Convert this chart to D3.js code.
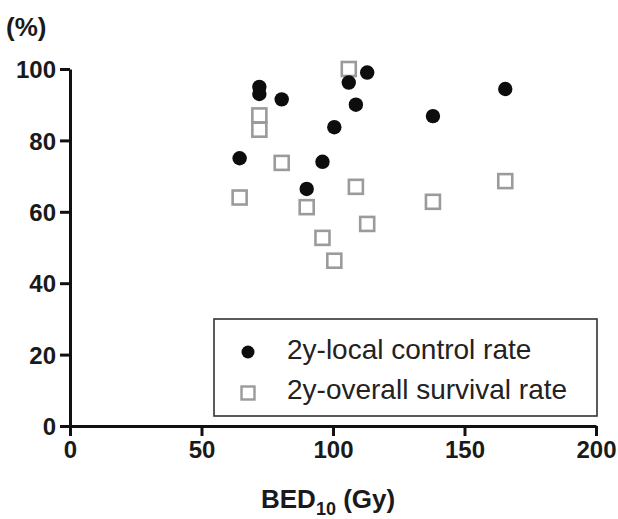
<!DOCTYPE html>
<html>
<head>
<meta charset="utf-8">
<script src="https://cdn.jsdelivr.net/npm/d3@7"></script>
<style>
  body { margin: 0; background: #fff; }
  svg { font-family: "Liberation Sans", Arial, sans-serif; }
</style>
</head>
<body>
<script>
// BED10 (Gy) of each study, with its 2y local control and 2y overall survival
const bed = [64.5, 72, 72, 80.5, 90, 96, 100.5, 106, 108.7, 113, 138, 165.5];
const localControl = [75, 95, 93, 91.5, 66.4, 74, 83.7, 96.2, 90, 99, 86.8, 94.4];
const overallSurvival = [64, 87, 83, 73.7, 61.3, 52.7, 46.3, 100, 67, 56.6, 62.8, 68.6];
const xTicks = [0, 50, 100, 150, 200];
const yTicks = [0, 20, 40, 60, 80, 100];
const legendLabels = ["2y-local control rate", "2y-overall survival rate"];

const width = 618, height = 519;

const svg = d3.select("body").append("svg")
    .attr("width", width)
    .attr("height", height)

const x = d3.scaleLinear().domain([0, 200]).range([70, 596])
const y = d3.scaleLinear().domain([0, 100]).range([426, 69])

// axes
const xAxis = svg.append("g")
    .attr("transform", `translate(0,${y(0)})`)
    .call(d3.axisBottom(x).tickValues(xTicks).tickSize(10).tickSizeOuter(0).tickPadding(5))
const yAxis = svg.append("g")
    .attr("transform", `translate(${x(0)},0)`)
    .call(d3.axisLeft(y).tickValues(yTicks).tickSize(10).tickSizeOuter(0).tickPadding(4))

for (const ax of [xAxis, yAxis]) {
  ax.select(".domain").attr("stroke", "#111").attr("stroke-width", 3)
  ax.selectAll(".tick line").attr("stroke", "#111").attr("stroke-width", 3)
  ax.selectAll(".tick text")
    .attr("fill", "#1a1a1a")
    .style("font-size", "24px")
    .style("font-weight", "bold")
}
yAxis.selectAll(".tick text").attr("dy", "0.36em")

// axis titles
svg.append("text")
    .attr("x", 6)
    .attr("y", 36)
    .style("font-size", "26px")
    .style("font-weight", "bold")
    .attr("fill", "#1a1a1a")
    .text("(%)")

const xTitle = svg.append("text")
    .attr("x", 261)
    .attr("y", 508)
    .style("font-size", "26px")
    .style("font-weight", "bold")
    .attr("fill", "#1a1a1a")
xTitle.append("tspan").text("BED")
xTitle.append("tspan").attr("dy", 7).style("font-size", "18px").text("10")
xTitle.append("tspan").attr("dy", -7).text(" (Gy)")

// data points
const rows = bed.map((b, i) => ({ bed: b, lc: localControl[i], os: overallSurvival[i] }))
const sq = 14

svg.append("g").selectAll("rect")
    .data(rows)
    .enter()
    .append("rect")
    .attr("x", d => x(d.bed) - sq / 2)
    .attr("y", d => y(d.os) - sq / 2)
    .attr("width", sq)
    .attr("height", sq)
    .attr("fill", "none")
    .attr("stroke", "#9b9b9b")
    .attr("stroke-width", 2.6)

svg.append("g").selectAll("circle")
    .data(rows)
    .enter()
    .append("circle")
    .attr("cx", d => x(d.bed))
    .attr("cy", d => y(d.lc))
    .attr("r", 7.2)
    .attr("fill", "#0d0d0d")

// legend
const legend = svg.append("g")
legend.append("rect")
    .attr("x", 214)
    .attr("y", 319)
    .attr("width", 383)
    .attr("height", 97)
    .attr("fill", "#fff")
    .attr("stroke", "#333")
    .attr("stroke-width", 1.6)
legend.append("circle")
    .attr("cx", 248)
    .attr("cy", 352)
    .attr("r", 6.5)
    .attr("fill", "#0d0d0d")
legend.append("rect")
    .attr("x", 248 - 6.5)
    .attr("y", 393 - 6.5)
    .attr("width", 13)
    .attr("height", 13)
    .attr("fill", "none")
    .attr("stroke", "#9b9b9b")
    .attr("stroke-width", 2.4)
legend.selectAll("text.lbl")
    .data(legendLabels)
    .enter()
    .append("text")
    .attr("class", "lbl")
    .attr("x", 287)
    .attr("y", (d, i) => 359 + i * 40)
    .style("font-size", "28px")
    .attr("fill", "#222")
    .text(d => d)
</script>
</body>
</html>
